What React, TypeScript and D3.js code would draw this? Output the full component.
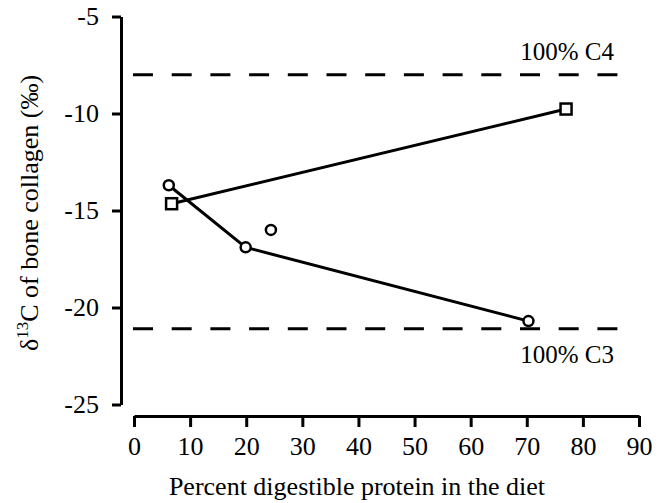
import React, { useRef, useEffect } from "react";
import * as d3 from "d3";

// values
const circleX = [6.2, 19.9, 24.4, 70.3];
const circleY = [-13.7, -16.9, -16.0, -20.7];
// circles joined by the lower line (the 24% point stands alone)
const circleLineX = [6.2, 19.9, 70.3];
const circleLineY = [-13.7, -16.9, -20.7];
const squareX = [6.7, 77.0];
const squareY = [-14.65, -9.77];

const refLabels = ["100% C4", "100% C3"];
const refValues = [-8.0, -21.1];
const refExtent = [0, 86.2];

const xTicks = [0, 10, 20, 30, 40, 50, 60, 70, 80, 90];
const yTicks = [-5, -10, -15, -20, -25];

const FONT = "'Liberation Serif', 'Times New Roman', serif";

const App = () => {
  const container = useRef(null);

  const width = 664;
  const height = 503;

  useEffect(() => {
    const svg = d3.select(container.current);
    svg.selectAll("*").remove();

    const xScale = d3.scaleLinear().domain([0, 90]).range([134, 639]);
    const yScale = d3.scaleLinear().domain([-5, -25]).range([16.5, 404.5]);

    // y axis
    const yAxis = svg
      .append("g")
      .attr("transform", "translate(121, 0)")
      .call(
        d3
          .axisLeft(yScale)
          .tickValues(yTicks)
          .tickSize(9)
          .tickSizeOuter(0)
          .tickPadding(13)
          .tickFormat((d) => String(d))
      );

    // x axis
    const xAxis = svg
      .append("g")
      .attr("transform", "translate(0, 416)")
      .call(
        d3
          .axisBottom(xScale)
          .tickValues(xTicks)
          .tickSize(11)
          .tickSizeOuter(0)
          .tickPadding(10)
          .tickFormat((d) => String(d))
      );

    [yAxis, xAxis].forEach((ax) => {
      ax.select(".domain").attr("stroke", "#000").attr("stroke-width", 3);
      ax.selectAll(".tick line").attr("stroke", "#000").attr("stroke-width", 3);
      ax.selectAll(".tick text")
        .attr("fill", "#000")
        .style("font-family", FONT)
        .style("font-size", "26px");
    });

    // dashed reference lines
    svg
      .selectAll(".ref")
      .data(refValues)
      .enter()
      .append("line")
      .attr("x1", xScale(refExtent[0]) - 1)
      .attr("x2", xScale(refExtent[1]))
      .attr("y1", (d) => yScale(d))
      .attr("y2", (d) => yScale(d))
      .attr("stroke", "#000")
      .attr("stroke-width", 3)
      .attr("stroke-dasharray", "20 18.7");

    svg
      .selectAll(".reflabel")
      .data(refLabels)
      .enter()
      .append("text")
      .attr("x", 567)
      .attr("y", (d, i) => yScale(refValues[i]) + (i === 0 ? -15 : 34))
      .attr("text-anchor", "middle")
      .style("font-family", FONT)
      .style("font-size", "25px")
      .text((d) => d);

    const line = d3
      .line()
      .x((d) => xScale(d[0]))
      .y((d) => yScale(d[1]));

    const squarePts = squareX.map((x, i) => [x, squareY[i]]);
    const circleLinePts = circleLineX.map((x, i) => [x, circleLineY[i]]);
    const circlePts = circleX.map((x, i) => [x, circleY[i]]);

    svg
      .append("path")
      .attr("d", line(squarePts))
      .attr("fill", "none")
      .attr("stroke", "#000")
      .attr("stroke-width", 3);

    svg
      .append("path")
      .attr("d", line(circleLinePts))
      .attr("fill", "none")
      .attr("stroke", "#000")
      .attr("stroke-width", 3);

    // markers
    svg
      .selectAll(".sq")
      .data(squarePts)
      .enter()
      .append("rect")
      .attr("x", (d) => xScale(d[0]) - 5.5)
      .attr("y", (d) => yScale(d[1]) - 5.5)
      .attr("width", 11)
      .attr("height", 11)
      .attr("fill", "#fff")
      .attr("stroke", "#000")
      .attr("stroke-width", 2.5);

    svg
      .selectAll(".ci")
      .data(circlePts)
      .enter()
      .append("circle")
      .attr("cx", (d) => xScale(d[0]))
      .attr("cy", (d) => yScale(d[1]))
      .attr("r", 5)
      .attr("fill", "#fff")
      .attr("stroke", "#000")
      .attr("stroke-width", 2.5);

    // axis titles
    svg
      .append("text")
      .attr("x", 357)
      .attr("y", 495)
      .attr("text-anchor", "middle")
      .style("font-family", FONT)
      .style("font-size", "26px")
      .text("Percent digestible protein in the diet");

    const yTitle = svg
      .append("text")
      .attr("transform", "translate(38, 213) rotate(-90)")
      .attr("text-anchor", "middle")
      .style("font-family", FONT)
      .style("font-size", "26px");
    yTitle.append("tspan").text("δ");
    yTitle.append("tspan").attr("dy", -10).style("font-size", "17px").text("13");
    yTitle.append("tspan").attr("dy", 10).text("C of bone collagen (‰)");
  }, []);

  return (
    <svg
      ref={container}
      width={width}
      height={height}
      style={{ position: "absolute", left: 0, top: 0, background: "#fff" }}
    />
  );
};

export default App;
